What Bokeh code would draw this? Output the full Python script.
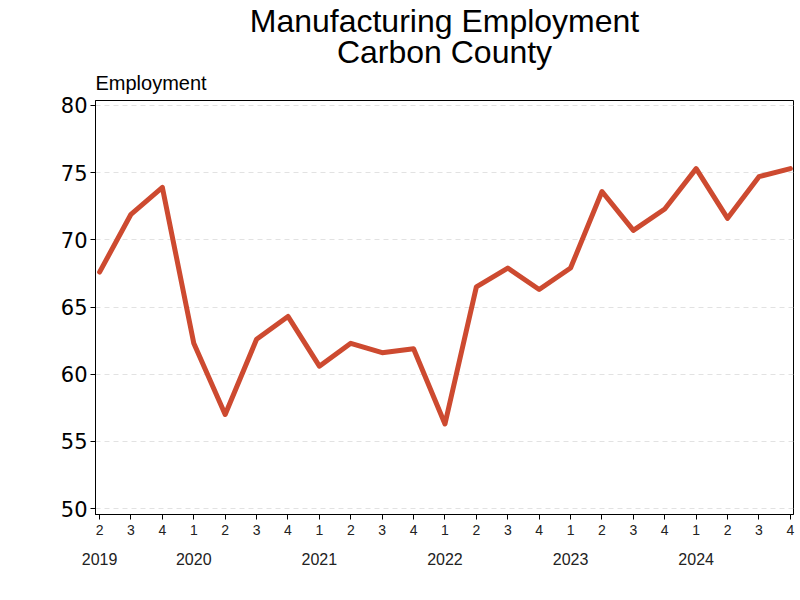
from bokeh.plotting import figure
from bokeh.models import LinearAxis, FixedTicker, Range1d, Title
from bokeh.embed import file_html
from bokeh.resources import INLINE

quarters = ["2", "3", "4", "1", "2", "3", "4", "1", "2", "3", "4", "1", "2", "3", "4",
            "1", "2", "3", "4", "1", "2", "3", "4"]
years = ["2019", "2020", "2021", "2022", "2023", "2024"]
year_pos = [0, 3, 7, 11, 15, 19]
employment = [67.6, 71.9, 73.9, 62.3, 57.0, 62.6, 64.3, 60.6, 62.3, 61.6, 61.9,
              56.3, 66.5, 67.9, 66.3, 67.9, 73.6, 70.7, 72.3, 75.3, 71.6, 74.7, 75.3]
y_ticks = [50, 55, 60, 65, 70, 75, 80]
title_lines = ["Manufacturing Employment", "Carbon County"]

FONT = "Liberation Sans"
idx = list(range(len(employment)))

p = figure(width=796, height=596, output_backend="svg", toolbar_location=None,
           x_range=Range1d(-0.13, 22.1), y_range=Range1d(49.56, 80.37),
           min_border_left=95, min_border_right=3, min_border_top=98, min_border_bottom=82)
p.outline_line_color = "black"
p.outline_line_width = 1
p.background_fill_color = "white"
p.border_fill_color = "white"

p.line(idx, employment, line_color="#CD4A30", line_width=5, line_join="round", line_cap="round")

# y axis
ya = p.yaxis[0]
ya.ticker = FixedTicker(ticks=y_ticks)
ya.major_label_text_font = "DejaVu Sans"
ya.major_label_text_font_size = "21px"
ya.major_label_text_color = "black"
ya.major_tick_in = 0
ya.major_tick_out = 5
ya.minor_tick_line_color = None
ya.axis_line_color = "black"
ya.major_label_standoff = 3

# x axis quarters
xa = p.xaxis[0]
xa.ticker = FixedTicker(ticks=idx)
xa.major_label_overrides = {i: q for i, q in zip(idx, quarters)}
xa.major_label_text_font = FONT
xa.major_label_text_font_size = "14px"
xa.major_label_text_color = "#222222"
xa.major_tick_in = 0
xa.major_tick_out = 5
xa.minor_tick_line_color = None
xa.axis_line_color = "black"
xa.major_label_standoff = 5

# x axis years
ax2 = LinearAxis(ticker=FixedTicker(ticks=year_pos),
                 major_label_overrides={pos: y for pos, y in zip(year_pos, years)})
ax2.axis_line_color = None
ax2.major_tick_line_color = None
ax2.minor_tick_line_color = None
ax2.major_label_text_font = FONT
ax2.major_label_text_font_size = "16px"
ax2.major_label_text_color = "#222222"
ax2.major_label_standoff = 9
p.add_layout(ax2, "below")

p.xgrid.grid_line_color = None
p.ygrid.ticker = FixedTicker(ticks=y_ticks)
p.ygrid.grid_line_color = "#e2e2e2"
p.ygrid.grid_line_dash = "5 4"

# titles
p.title = Title(text=title_lines[0], align="center", offset=-44,
                text_font=FONT, text_font_size="32px", text_font_style="normal",
                text_color="black", text_line_height=1.0, standoff=0)
p.add_layout(Title(text="Employment", align="left", text_font=FONT, text_font_size="20px",
                   text_font_style="normal", text_color="black", text_line_height=1.0,
                   standoff=14), "above")
p.add_layout(Title(text=title_lines[1], align="center", offset=-44,
                   text_font=FONT, text_font_size="32px", text_font_style="normal",
                   text_color="black", text_line_height=1.0, standoff=-14), "above")

open("out.html", "w").write(file_html(p, INLINE))
